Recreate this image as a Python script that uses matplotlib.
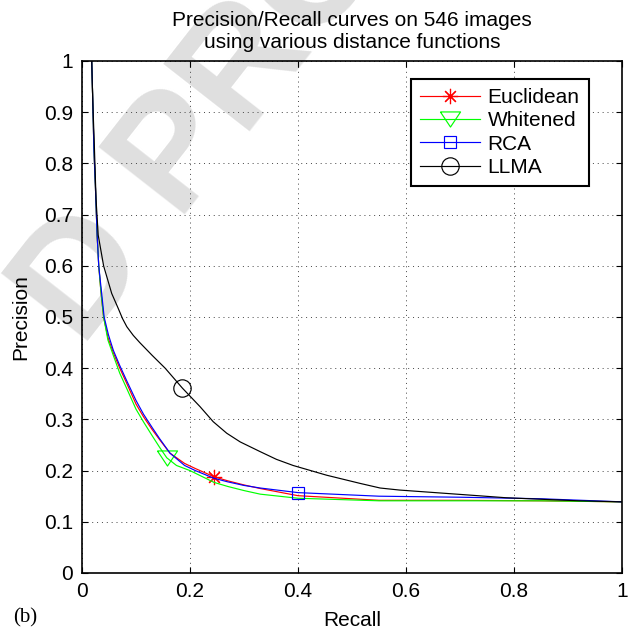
import numpy as np
import matplotlib
matplotlib.use("Agg")
import matplotlib.pyplot as plt

plt.rcParams['font.family'] = ['Liberation Sans', 'DejaVu Sans']

# values (recall, precision)
eucl_x = [0.018, 0.020, 0.022, 0.025, 0.028, 0.031, 0.035, 0.040, 0.048, 0.058, 0.070, 0.083,
          0.100, 0.114, 0.130, 0.144, 0.163, 0.190, 0.210, 0.2444, 0.27, 0.30, 0.33, 0.40,
          0.55, 0.70, 0.85, 1.00]
eucl_y = [1.0, 0.92, 0.83, 0.75, 0.66, 0.60, 0.55, 0.50, 0.46, 0.43, 0.40, 0.37,
          0.33, 0.305, 0.28, 0.26, 0.234, 0.214, 0.204, 0.188, 0.180, 0.172, 0.165, 0.151,
          0.142, 0.142, 0.141, 0.139]

white_x = [0.018, 0.020, 0.022, 0.025, 0.028, 0.031, 0.035, 0.040, 0.048, 0.058, 0.070, 0.083,
           0.100, 0.114, 0.130, 0.144, 0.157, 0.175, 0.200, 0.2444, 0.27, 0.30, 0.33, 0.40,
           0.55, 0.70, 0.85, 1.00]
white_y = [1.0, 0.92, 0.83, 0.75, 0.66, 0.60, 0.55, 0.50, 0.455, 0.425, 0.39, 0.36,
           0.32, 0.295, 0.268, 0.245, 0.225, 0.210, 0.200, 0.177, 0.169, 0.161, 0.154, 0.146,
           0.141, 0.141, 0.141, 0.139]

rca_x = [0.018, 0.020, 0.022, 0.025, 0.028, 0.031, 0.036, 0.041, 0.049, 0.058, 0.070, 0.083,
         0.100, 0.114, 0.130, 0.144, 0.163, 0.190, 0.210, 0.2444, 0.27, 0.30, 0.33, 0.40,
         0.55, 0.70, 0.85, 1.00]
rca_y = [1.0, 0.92, 0.83, 0.75, 0.66, 0.60, 0.55, 0.50, 0.465, 0.435, 0.405, 0.375,
         0.337, 0.31, 0.284, 0.262, 0.234, 0.210, 0.200, 0.185, 0.178, 0.171, 0.166, 0.157,
         0.150, 0.148, 0.145, 0.139]

llma_x = [0.018, 0.020, 0.023, 0.026, 0.030, 0.040, 0.055, 0.067, 0.075, 0.083, 0.095, 0.107,
          0.130, 0.154, 0.186, 0.2185, 0.243, 0.268, 0.293, 0.330, 0.360, 0.391, 0.453, 0.515,
          0.552, 0.588, 0.654, 0.720, 0.785, 0.851, 0.920, 1.000]
llma_y = [1.0, 0.92, 0.83, 0.73, 0.66, 0.60, 0.546, 0.517, 0.497, 0.481, 0.464, 0.450,
          0.425, 0.400, 0.361, 0.325, 0.2955, 0.273, 0.256, 0.237, 0.222, 0.210, 0.191, 0.175,
          0.166, 0.162, 0.157, 0.152, 0.147, 0.144, 0.141, 0.139]

# index of the single marker drawn on each curve
eucl_mark = 19
white_mark = 16
rca_mark = 23
llma_mark = 14

fig = plt.figure(figsize=(6.35, 6.32), dpi=100)
ax = fig.add_axes([82/635, 1-573/632, 540/635, 512/632])
ax.set_facecolor('none')

# faint watermark behind the plot
wm = dict(fontsize=115, fontweight='bold', color='#dfdfdf', rotation=52,
          rotation_mode='anchor', va='baseline', zorder=-5)
fig.text(148/635, 1-250/632, "D", ha='right', **wm)
fig.text(175/635, 1-215/632, "PROOF", ha='left', **wm)

asterisk = (8, 2, 0)
tri = [(-1, 0.75), (1, 0.75), (0, -0.75), (-1, 0.75)]

ax.plot(eucl_x, eucl_y, color='#ff0000', lw=0.85, marker=asterisk, ms=11,
        mew=0.85, markevery=[eucl_mark], label='Euclidean')
ax.plot(white_x, white_y, color='#00ff00', lw=0.85, marker=tri, ms=14.5, mfc='none',
        mew=0.85, markevery=[white_mark], label='Whitened')
ax.plot(rca_x, rca_y, color='#0000ff', lw=0.85, marker='s', ms=9, mfc='none',
        mew=0.85, markevery=[rca_mark], label='RCA')
ax.plot(llma_x, llma_y, color='black', lw=0.85, marker='o', ms=12.5, mfc='none',
        mew=0.85, markevery=[llma_mark], label='LLMA')

ax.set_xlim(0, 1)
ax.set_ylim(0, 1)
ax.set_xticks(np.arange(0, 1.01, 0.2))
ax.set_yticks(np.arange(0, 1.01, 0.1))
ax.set_xticklabels(['0', '0.2', '0.4', '0.6', '0.8', '1'])
ax.set_yticklabels(['0', '0.1', '0.2', '0.3', '0.4', '0.5', '0.6', '0.7', '0.8', '0.9', '1'])
ax.tick_params(direction='in', length=4, width=0.8, labelsize=15, top=True, right=True, pad=6.5)
ax.grid(True, color='#444444', linestyle=(0, (1, 4)), linewidth=0.7)
for s in ax.spines.values():
    s.set_linewidth(1.2)

ax.set_title("Precision/Recall curves on 546 images\nusing various distance functions",
             fontsize=15, pad=9, linespacing=1.25)
ax.set_xlabel("Recall", fontsize=15, labelpad=7)
ax.set_ylabel("Precision", fontsize=15, labelpad=10)

leg = ax.legend(loc='upper right', bbox_to_anchor=(0.939, 0.965), borderaxespad=0,
                fontsize=15, numpoints=1, handlelength=2.9, handletextpad=0.35,
                labelspacing=0.2, fancybox=False, framealpha=1, edgecolor='black',
                borderpad=0.45)
leg.get_frame().set_linewidth(1.5)

fig.text(25/635, 1-618/632, "(b)", fontsize=15, ha='center', va='center',
         family=['Liberation Serif', 'DejaVu Serif'])

fig.savefig("out.png", dpi=100)
